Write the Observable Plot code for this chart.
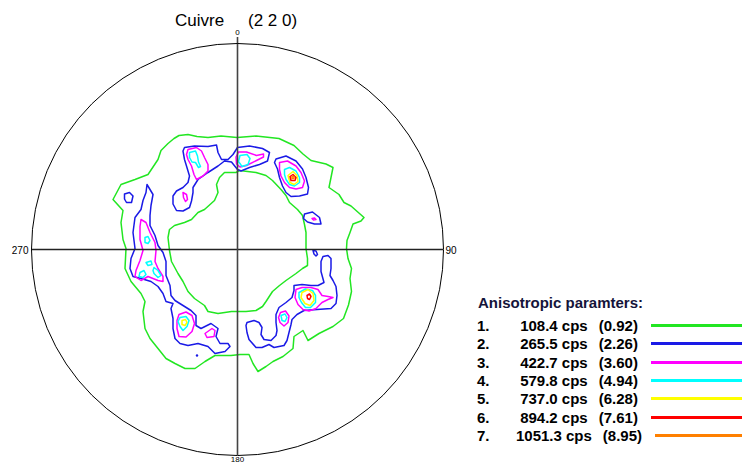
<!DOCTYPE html>
<html>
<head>
<meta charset="utf-8">
<script src="https://cdn.jsdelivr.net/npm/d3@7"></script>
<script src="https://cdn.jsdelivr.net/npm/@observablehq/plot@0.6"></script>
<style>
  html, body { margin: 0; padding: 0; background: #fff; }
  #wrap { position: relative; width: 742px; height: 463px; overflow: hidden; font-family: "Liberation Sans", Arial, sans-serif; }
  #wrap svg { position: absolute; left: 0; top: 0; }
  .title { position: absolute; top: 12px; font-size: 17px; line-height: 17px; color: #000; white-space: pre; }
  .lg { position: absolute; font-size: 15px; line-height: 15px; font-weight: bold; color: #000; white-space: pre; }
  .lgline { position: absolute; height: 3px; }
</style>
</head>
<body>
<div id="wrap"></div>
<script>
// ---------- data (pole figure coordinates, circle radius R) ----------
const R = 206;
const titleMaterial = "Cuivre";
const titleReflection = "(2 2 0)";
const azimuthLabels = ["0", "90", "180", "270"];
const legendTitle = "Anisotropic paramters:";
const levelIndex = [1, 2, 3, 4, 5, 6, 7];
const levelCps = [108.4, 265.5, 422.7, 579.8, 737.0, 894.2, 1051.3];
const levelRatio = [0.92, 2.26, 3.60, 4.94, 6.28, 7.61, 8.95];
const levelColors = ["#22e622", "#1a1ae6", "#ff00ff", "#00ffff", "#ffff00", "#ff0000", "#ff8000"];

// level 1 (green)
const lev1Outer = [[-58.5,114],[-49.5,115],[-40.5,113],[-29.5,112],[-16.5,113.5],[-0.5,112],[18.5,113.5],[41.5,111],[56.5,104],[65.5,95.5],[73.5,89],[88.5,85.5],[95.5,82],[93.5,72],[91.5,62],[101.5,55],[106.5,47],[113.5,43.5],[126.5,32],[123.5,28.5],[115.5,25.5],[112.5,17],[109.5,9],[109,1],[110.5,-9],[114,-19],[112.5,-29],[114,-42],[111,-55.5],[106,-69],[95.5,-77],[81.5,-84],[70.5,-91],[65.5,-81],[56.5,-87],[55.5,-99],[45.5,-107],[35.5,-112],[28.5,-117],[20.5,-122],[15.5,-114],[11.5,-105],[2.5,-105],[-6.5,-106],[-22.5,-106],[-32.5,-112],[-42.5,-119],[-52.5,-119],[-62.5,-114],[-71.5,-109],[-79.5,-99],[-87.5,-89],[-92.5,-79],[-94.5,-62],[-92.5,-52],[-96.5,-44],[-106.5,-32],[-112.5,-19],[-111.5,1],[-114.5,10],[-116.5,27],[-114.5,39],[-124.5,50],[-116.5,65],[-102.5,70],[-89.5,75],[-79.5,90],[-76.5,99],[-69.5,106],[-63.5,111]];
const lev1Inner = [[-1.5,77],[-13,77],[-18,72],[-21,65],[-19.5,57],[-23,49],[-33,40],[-39.5,37],[-46,30],[-53,27],[-63,24],[-68,20],[-69.5,12],[-68,-1],[-66,-12],[-59.5,-24],[-54.5,-32],[-49.5,-42],[-43,-49],[-33,-56],[-29.5,-62],[-19.5,-64],[-6,-62],[8.5,-62],[18.5,-61],[25,-57],[28.5,-52],[35,-42],[42,-36],[48.5,-31],[58.5,-24],[65,-19],[70,-16],[70,-9],[68.5,1],[68.5,7],[68.5,17],[67,25],[65,34],[60,40],[52,47],[48.5,54],[43.5,60],[35,69],[28.5,74],[18.5,77],[2,79]];

// level 2 (blue)
const lev2Top = [[-53,102],[-43,103.5],[-29.5,103],[-21,104.5],[-19.5,97],[-16,90],[-9.5,90],[-4.5,95],[0,102],[12,103.5],[25,101],[32,97],[30,88.5],[22,85],[12,82],[3.5,78.5],[0,80],[-6,87.5],[-13,88.5],[-19.5,83.5],[-29.5,77],[-39.5,70],[-44.5,62],[-44.5,57],[-46,48.5],[-48,42],[-54.5,38.5],[-61,39],[-64.5,45.5],[-64.5,53.5],[-61,58.5],[-54.5,62],[-49.5,67],[-48,73.5],[-51,83.5],[-53,90],[-54.5,98.5]];
const lev2TopRight = [[38.5,90.5],[48.5,93.5],[58.5,88.5],[65,80.5],[68.5,72],[71,62],[70,55.5],[62,53.5],[53.5,53],[48.5,57],[45,63.5],[42,72],[40,80.5],[37,87]];
const lev2Right = [[67,35.5],[75,37.5],[82,32],[83.5,25.5],[77,25.5],[70,27.5],[66,31]];
const lev2FarLeft = [[-113,55.5],[-108,57],[-104.5,53.5],[-106,47],[-111,47],[-113,50.5]];
const lev2Left = [[-90.5,65],[-87.5,60],[-84.5,55],[-86.5,44],[-87.5,34],[-87.5,24],[-82.5,14],[-79.5,4],[-74.5,-3],[-71.5,-12],[-71.5,-26],[-67.5,-36],[-66.5,-46],[-62.5,-51],[-54.5,-56],[-46.5,-61],[-41.5,-66],[-41.5,-76],[-36.5,-79],[-26.5,-74],[-19.5,-79],[-21.5,-87],[-17.5,-94],[-9.5,-94],[-7.5,-97],[-12.5,-102],[-22.5,-104],[-29.5,-97],[-39.5,-94],[-49.5,-96],[-57.5,-94],[-62.5,-89],[-64.5,-79],[-64.5,-69],[-66.5,-59],[-64.5,-54],[-71.5,-52],[-74.5,-44],[-79.5,-37],[-86.5,-32],[-96.5,-29],[-104.5,-27],[-107.5,-19],[-106.5,-9],[-102.5,1],[-104.5,17],[-102.5,32],[-96.5,40],[-94.5,49],[-91.5,57]];
const lev2BottomRight = [[56.5,-36],[64.5,-35],[73.5,-36],[80.5,-36],[86.5,-33],[83.5,-22],[83.5,-12],[85.5,-7],[90.5,-6],[93.5,-9],[93.5,-19],[92.5,-26],[95.5,-31],[98.5,-37],[99.5,-46],[98.5,-54],[93.5,-59],[79.5,-60],[66.5,-61],[59.5,-65],[54.5,-70],[53.5,-75],[51.5,-83],[49.5,-91],[46.5,-96],[36.5,-98],[31.5,-95],[24.5,-98],[18.5,-98],[11.5,-90],[9.5,-83],[8.5,-76],[9.5,-73],[16.5,-71],[21.5,-73],[24.5,-78],[23.5,-85],[26.5,-90],[33.5,-91],[38.5,-86],[39.5,-81],[38.5,-73],[38.5,-65],[41.5,-58],[48.5,-53],[54.5,-48],[56.5,-41]];
const lev2Small = [[75.5,-1],[78.5,-1.5],[80,-5],[78.5,-6.5],[76.5,-4.5]];
const lev2Spot = [[-40.5,-106]];

// level 3 (magenta)
const lev3TopLeft = [[-49.5,100],[-41,102],[-36,98.5],[-33,92],[-29.5,85],[-29.5,78.5],[-34.5,73.5],[-41,70],[-43.5,75],[-46,83.5],[-49.5,90],[-51,95]];
const lev3TopLeftSmall = [[-54.5,57],[-51,55],[-50,50],[-52,48],[-54,52]];
const lev3Top = [[1,97.5],[9,97.5],[19,94],[26,95.5],[26,92.5],[19,89],[9,84],[2.5,82.5],[-1,85.5],[-1.5,92.5]];
const lev3TopRight = [[42,87],[50,88.5],[58.5,83.5],[63.5,77],[67,68.5],[65,62],[58.5,60.5],[52,62],[47,67],[43.5,73.5],[42,80]];
const lev3RightSmall = [[74.5,31],[77,31.5],[78.5,30],[76,29.5]];
const lev3Left = [[-96.5,30],[-91.5,27],[-87.5,17],[-82.5,7],[-81.5,-1],[-82.5,-12],[-79.5,-19],[-74.5,-27],[-74.5,-32],[-79.5,-31],[-89.5,-27],[-96.5,-31],[-102.5,-27],[-101.5,-21],[-97.5,-11],[-94.5,-1],[-97.5,10],[-97.5,23]];
const lev3BottomLeft = [[-58.5,-65],[-51.5,-62.5],[-45.5,-66],[-43,-74],[-45.5,-82],[-51.5,-87.5],[-58.5,-87],[-60.5,-79],[-60.5,-71]];
const lev3BottomLeftSmall = [[-32.5,-84],[-25.5,-79],[-22.5,-81],[-23.5,-87],[-30.5,-88]];
const lev3BottomRight = [[58.5,-40],[64.5,-38],[73.5,-38],[80.5,-40],[84.5,-46],[90.5,-47],[95.5,-48],[90.5,-50],[84.5,-53],[78.5,-59],[71.5,-61.5],[65.5,-60],[60.5,-55],[57.5,-48]];
const lev3BottomRightSmall = [[43,-63],[48,-61.5],[51.5,-66.5],[50.5,-73],[46.5,-76.5],[42.5,-73],[41,-68]];

// level 4 (cyan)
const lev4TopLeft = [[-48,97],[-42,98.5],[-40,93.5],[-39,87.5],[-37,83],[-39,82],[-42,87],[-45.5,87.5],[-48,92]];
const lev4Top = [[2.5,94],[9.5,95],[12.5,91],[10.5,85],[4.5,83],[1,88]];
const lev4TopRight = [[47,80],[52,82],[58.5,78.5],[62,72],[62,67],[57,63.5],[52,65],[48.5,70],[47,75]];
const lev4LeftA = [[-92.5,12],[-89.5,13],[-87.5,9],[-89.5,6],[-92.5,7]];
const lev4LeftB = [[-91.5,-13],[-86.5,-11.5],[-85.5,-15],[-89.5,-16]];
const lev4LeftC = [[-83.5,-18],[-79.5,-21],[-76.5,-26],[-79.5,-28],[-83.5,-24],[-84.5,-21]];
const lev4LeftD = [[-97.5,-23],[-93.5,-21],[-91.5,-25],[-94.5,-28],[-98.5,-27]];
const lev4BottomLeft = [[-57.5,-68],[-51.5,-67],[-48.5,-71],[-50.5,-77],[-54.5,-81],[-57.5,-77],[-59.5,-72]];
const lev4BottomRight = [[61.5,-43],[68,-39.5],[75,-41],[78,-46],[78,-53],[73,-58],[68,-58],[64,-53],[61.5,-48]];
const lev4BottomRightSmall = [[43.5,-66],[47.5,-64.5],[49.5,-68],[47.5,-72],[44.5,-71]];

// level 5 (yellow)
const lev5TopRight = [[50.5,74],[55.5,78],[59.5,74],[60.5,68],[56.5,65],[52.5,67]];
const lev5BottomLeft = [[-55.5,-71],[-52,-70],[-50.5,-73],[-52.5,-76],[-55.5,-75]];
const lev5BottomRight = [[64.5,-43],[70.5,-40],[75.5,-44],[76.5,-51],[72.5,-56],[67.5,-54],[63.5,-48]];

// level 6 (red)
const lev6TopRight = [[52.5,73],[55.5,75],[58.5,72],[57.5,69],[53.5,69]];
const lev6BottomRight = [[69.5,-46],[72,-44.5],[73.5,-47],[72,-50],[70,-49]];

// level 7 (orange)
const lev7TopRight = [[54.5,73],[56.5,73],[56.5,71],[54.5,71]];

// ---------- build table ----------
const contourSets = [
  [1, [lev1Outer, lev1Inner]],
  [2, [lev2Top, lev2TopRight, lev2Right, lev2FarLeft, lev2Left, lev2BottomRight, lev2Small]],
  [3, [lev3TopLeft, lev3TopLeftSmall, lev3Top, lev3TopRight, lev3RightSmall, lev3Left, lev3BottomLeft, lev3BottomLeftSmall, lev3BottomRight, lev3BottomRightSmall]],
  [4, [lev4TopLeft, lev4Top, lev4TopRight, lev4LeftA, lev4LeftB, lev4LeftC, lev4LeftD, lev4BottomLeft, lev4BottomRight, lev4BottomRightSmall]],
  [5, [lev5TopRight, lev5BottomLeft, lev5BottomRight]],
  [6, [lev6TopRight, lev6BottomRight]],
  [7, [lev7TopRight]]
];
const rows = [];
let cid = 0;
for (const [level, loops] of contourSets) {
  for (const loop of loops) {
    cid++;
    for (const [x, y] of loop) rows.push({id: cid, level, x, y});
  }
}
const spots = lev2Spot.map(([x, y]) => ({x, y, level: 2}));

const W = 742, H = 463, mL = 31, mR = 299, mT = 43, mB = 8;
const labelFont = "Liberation Sans, Arial, sans-serif";
const axisLabel = (text, x, y, opts) =>
  Plot.text([text], {x: () => x, y: () => y, text: d => d, fontSize: 10, fill: "#000", fontFamily: labelFont, ...opts});

const chart = Plot.plot({
  width: W, height: H,
  marginLeft: mL, marginRight: mR, marginTop: mT, marginBottom: mB,
  x: {domain: [-R, R], axis: null},
  y: {domain: [-R, R], axis: null},
  r: {type: "linear", domain: [0, R], range: [0, (W - mL - mR) / 2]},
  color: {type: "ordinal", domain: levelIndex, range: levelColors},
  style: {background: "#fff", overflow: "visible"},
  marks: [
    Plot.line(rows, {x: "x", y: "y", z: "id", stroke: "level", strokeWidth: 1.5, curve: "linear-closed"}),
    Plot.dot(spots, {x: "x", y: "y", r: 1.2, fill: "level", stroke: null}),
    Plot.ruleY([0], {x1: -R, x2: R, stroke: "#222", strokeWidth: 1.3}),
    Plot.ruleX([0], {y1: -R, y2: R + 6, stroke: "#444", strokeWidth: 1.6}),
    Plot.dot([R], {x: () => 0, y: () => 0, r: d => d, stroke: "#000", strokeWidth: 1, fill: "none"}),
    axisLabel(azimuthLabels[0], 0, R, {dy: -11, fontSize: 8}),
    axisLabel(azimuthLabels[1], R, 0, {textAnchor: "start", dx: 2, dy: 1}),
    axisLabel(azimuthLabels[2], 0, -R, {dy: 4, fontSize: 8}),
    axisLabel(azimuthLabels[3], -R, 0, {textAnchor: "end", dx: -3, dy: 1})
  ]
});
const wrap = document.getElementById("wrap");
wrap.appendChild(chart);

// title
const t1 = document.createElement("div");
t1.className = "title"; t1.style.left = "175px"; t1.textContent = titleMaterial;
const t2 = document.createElement("div");
t2.className = "title"; t2.style.left = "248px"; t2.textContent = titleReflection;
wrap.appendChild(t1); wrap.appendChild(t2);

// legend
const lgTop = 295, rowTop = 318, rowStep = 18.33;
const hdr = document.createElement("div");
hdr.className = "lg"; hdr.style.left = "478px"; hdr.style.top = lgTop + "px"; hdr.style.color = "#14143a";
hdr.textContent = legendTitle;
wrap.appendChild(hdr);
levelIndex.forEach((n, i) => {
  const top = rowTop + i * rowStep;
  const num = document.createElement("div");
  num.className = "lg"; num.style.left = "477px"; num.style.top = top + "px";
  num.textContent = n + ".";
  wrap.appendChild(num);
  const grp = document.createElement("div");
  grp.className = "lg"; grp.style.top = top + "px";
  grp.innerHTML = `<span>${levelCps[i].toFixed(1)} cps</span><span style="margin-left:11px">(${levelRatio[i].toFixed(2)})</span>`;
  wrap.appendChild(grp);
  const w = grp.getBoundingClientRect().width;
  const left = 579 - w / 2;
  grp.style.left = left + "px";
  const ln = document.createElement("div");
  ln.className = "lgline";
  const start = left + w + 13;
  ln.style.left = start + "px";
  ln.style.width = (W - start) + "px";
  ln.style.top = (top + 6) + "px";
  ln.style.background = levelColors[i];
  wrap.appendChild(ln);
});
</script>
</body>
</html>
